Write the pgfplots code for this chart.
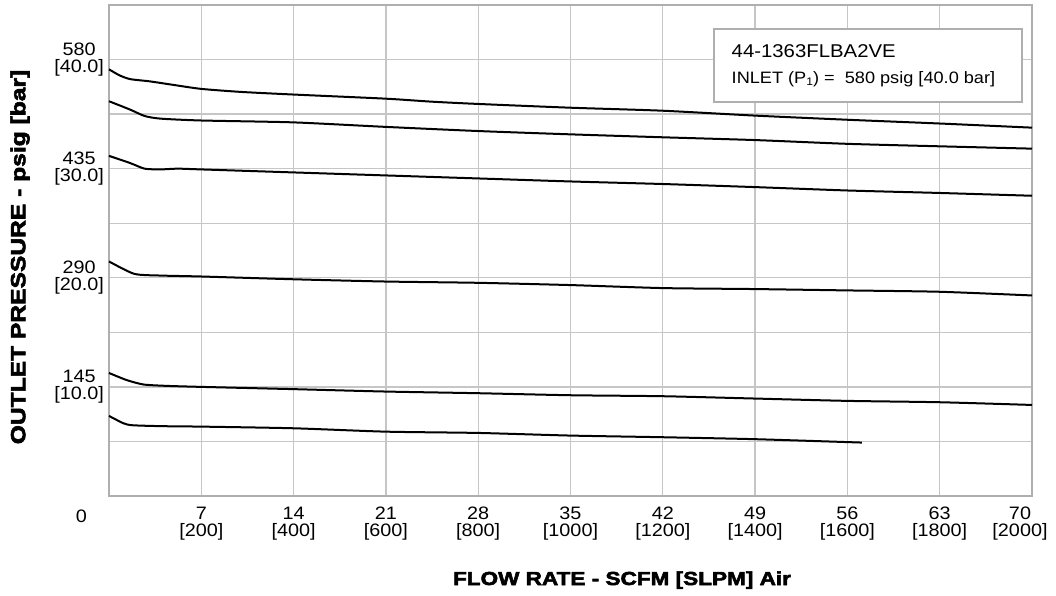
\documentclass[border=0pt]{standalone}
\usepackage{pgfplots}
\pgfplotsset{compat=1.18}
\usepackage{fontspec}
\setmainfont{Liberation Sans}[FakeStretch=1.1]
\newfontfamily\blackfont{Liberation Sans}[FakeStretch=1.2, FakeBold=3]
\definecolor{gridgray}{RGB}{198,198,198}
\definecolor{boxgray}{RGB}{175,175,175}

\begin{document}
\begin{tikzpicture}
% page = 1056 x 596, 1pt = 1px; axis box lower left at origin
\path[use as bounding box] (-109pt,-100pt) rectangle (947pt,496pt);
\begin{axis}[
    scale only axis,
    width=923pt, height=491pt,
    xmin=0, xmax=70,
    ymin=0, ymax=652.5,
    xtick={7,14,...,70},
    xticklabels={{7\\{[200]}},{14\\{[400]}},{21\\{[600]}},{28\\{[800]}},{35\\{[1000]}},
      {42\\{[1200]}},{49\\{[1400]}},{56\\{[1600]}},{63\\{[1800]}},{70\\{[2000]}}},
    ytick={72.5,145,217.5,290,362.5,435,507.5,580},
    yticklabels={{},{145\\{[10.0]}},{},{290\\{[20.0]}},{},{435\\{[30.0]}},{},{580\\{[40.0]}}},
    major tick length=0pt,
    grid=major,
    major grid style={draw=gridgray, line width=1.3pt},
    axis line style={draw=boxgray, line width=2pt},
    xticklabel style={font=\fontsize{18}{17}\selectfont, align=center,
      anchor=north, inner sep=0pt, yshift=-11pt, xshift={(\ticknum==9)*(-12pt)}},
    yticklabel style={font=\fontsize{18}{17}\selectfont, align=center,
      anchor=east, inner sep=0pt, xshift=-5pt},
    clip=false,
    every axis plot post/.append style={black, solid, line width=2pt, smooth, tension=0.4, mark=none},
]
\addplot coordinates {
  (0,567) (0.8,559) (1.6,554) (3.1,551) (5,546) (7,541) (10,537) (14,533.5)
  (21,528) (24.5,524) (28,521) (35,516) (42,512) (49,505.5) (56,500) (63,495) (70,489.5)
};
\addplot coordinates {
  (0,524.6) (1.6,513.5) (2.7,505) (3.9,501.5) (7,499) (14,496.5) (21,490.5)
  (28,485) (35,480.6) (42,476.7) (49,473) (56,468) (63,464.7) (70,461.6)
};
\addplot coordinates {
  (0,452) (1.6,442.5) (2.7,435) (3.9,434) (5.2,435) (7,434) (14,430) (21,426)
  (28,422) (35,418) (42,414.6) (49,410.5) (56,406) (63,402.7) (70,399)
};
\addplot coordinates {
  (0,311.7) (1.9,295.3) (3.8,293) (7,291.7) (14,288) (21,285) (28,283.3)
  (35,280.3) (42,276.3) (49,275) (56,273.2) (63,271.4) (70,266.5)
};
\addplot coordinates {
  (0,163.5) (1.3,154.3) (2.6,148.2) (4.3,146.4) (7,145) (14,142) (21,138.8)
  (28,136.6) (35,133.9) (42,132.6) (49,129.5) (56,126.4) (63,124.6) (70,121)
};
\addplot coordinates {
  (0,106.4) (1.1,96.6) (1.8,94) (4,92.8) (7,92.2) (14,90) (21,85.5) (28,83.8)
  (35,80.3) (42,78.1) (49,75.5) (57.1,71)
};
\end{axis}
% zero label at the corner
\node[anchor=base, inner sep=0pt, font=\fontsize{18}{15}\selectfont] at (-27.5pt,-27pt) {0};
% info box
\draw[draw=boxgray, line width=2pt, fill=white] (605pt,394pt) rectangle (913pt,467pt);
\node[anchor=base west, inner sep=0pt, font=\fontsize{18.5}{20}\selectfont] at (622.5pt,438.7pt) {44-1363FLBA2VE};
\node[anchor=base west, inner sep=0pt, font=\fontsize{16.5}{18}\selectfont] at (622.5pt,412pt)
  {INLET (P\raisebox{-1.5pt}{\fontsize{11}{11}\selectfont 1}) =\ \ 580 psig [40.0 bar]};
% axis titles
\node[anchor=base, inner sep=0pt, font=\fontsize{18.8}{20}\selectfont\blackfont\bfseries] at (513pt,-89pt)
  {FLOW RATE - SCFM [SLPM] Air};
\node[rotate=90, inner sep=0pt, font=\fontsize{20.5}{22}\selectfont\blackfont\bfseries] at (-89pt,239pt)
  {OUTLET PRESSURE - psig [bar]};
\end{tikzpicture}
\end{document}
